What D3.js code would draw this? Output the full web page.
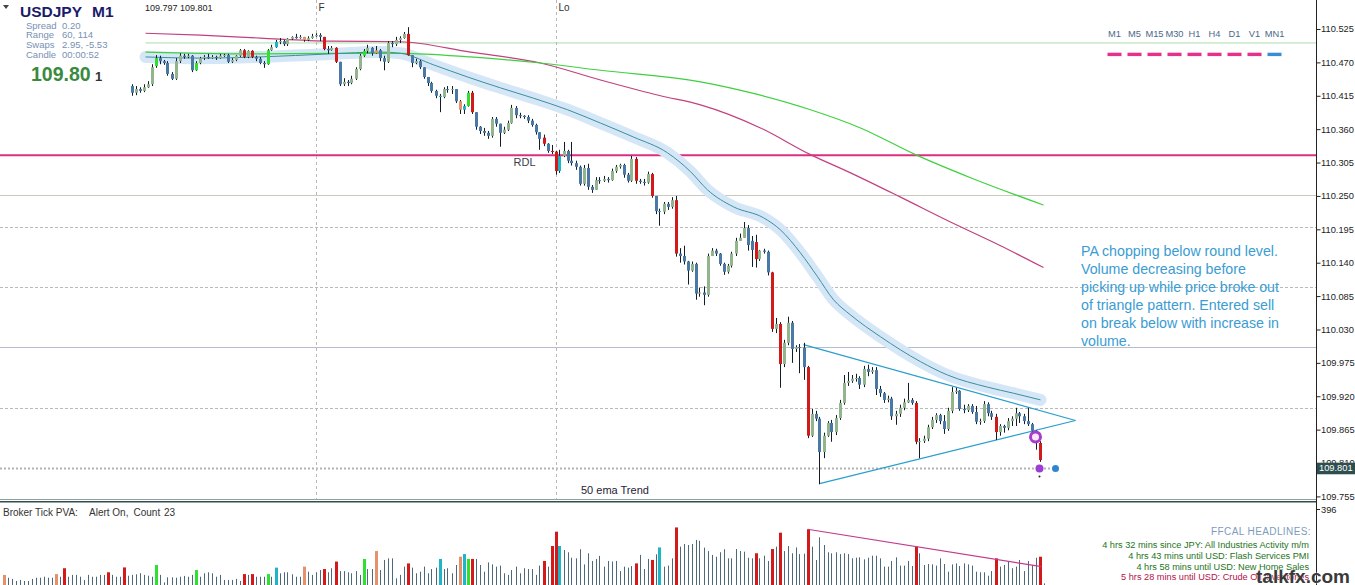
<!DOCTYPE html>
<html><head><meta charset="utf-8">
<script src="https://cdn.jsdelivr.net/npm/d3@7"></script>
<style>
html,body{margin:0;padding:0;background:#fff;overflow:hidden}
svg{display:block}
text{font-family:"Liberation Sans",Arial,sans-serif}
</style></head><body>
<svg id="c" width="1355" height="585"></svg>
<script>
// ---------------- DATA ----------------
const symbol = "USDJPY", timeframe = "M1";
const infoLabels = ["Spread","Range","Swaps","Candle"];
const infoValues = ["0.20","60, 114","2.95, -5.53","00:00:52"];
const bigPrice = "109.80", bigPriceLast = "1";
const bidAsk = "109.797 109.801";
const currentPrice = 109.801;

const candleStart = 32; // bar index (in the volume series) of the first visible candle
const opens=[110.431,110.420,110.426,110.423,110.429,110.434,110.464,110.477,110.472,110.469,
110.451,110.443,110.472,110.481,110.479,110.481,110.457,110.469,110.477,110.479,
110.477,110.479,110.477,110.481,110.482,110.471,110.474,110.481,110.490,110.479,
110.489,110.479,110.476,110.469,110.467,110.490,110.495,110.504,110.505,110.500,
110.509,110.512,110.510,110.512,110.507,110.510,110.513,110.515,110.512,110.492,
110.490,110.494,110.471,110.434,110.438,110.436,110.443,110.459,110.481,110.489,
110.494,110.485,110.490,110.477,110.471,110.502,110.500,110.507,110.510,110.517,
110.482,110.469,110.472,110.462,110.446,110.436,110.423,110.415,110.413,110.426,
110.425,110.426,110.406,110.392,110.398,110.420,110.388,110.364,110.357,110.354,
110.349,110.377,110.369,110.354,110.359,110.370,110.395,110.383,110.382,110.380,
110.374,110.367,110.355,110.346,110.336,110.324,110.323,110.291,110.316,110.324,
110.308,110.304,110.298,110.270,110.296,110.265,110.260,110.276,110.275,110.278,
110.276,110.291,110.298,110.301,110.285,110.275,110.311,110.275,110.273,110.272,
110.286,110.250,110.225,110.224,110.237,110.232,110.243,110.155,110.151,110.142,
110.127,110.138,110.089,110.091,110.087,110.151,110.160,110.155,110.138,110.125,
110.135,110.155,110.176,110.181,110.197,110.176,110.174,110.146,110.160,110.158,
110.124,110.031,110.039,109.973,110.008,110.041,109.998,110.001,110.000,109.968,
109.855,109.891,109.883,109.828,109.855,109.876,109.861,109.884,109.909,109.942,
109.945,109.949,109.950,109.939,109.965,109.960,109.963,109.932,109.925,109.914,
109.916,109.887,109.891,109.901,109.910,109.914,109.909,109.845,109.846,109.850,
109.869,109.881,109.889,109.879,109.866,109.896,109.927,109.929,109.899,109.897,
109.904,109.894,109.878,109.879,109.907,109.892,109.886,109.861,109.871,109.868,
109.879,109.883,109.892,109.887,109.879,109.874,109.863,109.843];
const closes=[110.420,110.426,110.423,110.429,110.434,110.462,110.477,110.472,110.469,110.451,
110.443,110.472,110.481,110.479,110.481,110.457,110.469,110.477,110.479,110.477,
110.479,110.477,110.481,110.482,110.471,110.474,110.481,110.490,110.479,110.489,
110.479,110.476,110.469,110.467,110.490,110.495,110.504,110.505,110.500,110.509,
110.512,110.510,110.512,110.507,110.510,110.513,110.515,110.512,110.492,110.490,
110.494,110.471,110.434,110.438,110.436,110.443,110.459,110.481,110.489,110.494,
110.485,110.490,110.477,110.471,110.502,110.500,110.507,110.510,110.517,110.482,
110.469,110.472,110.462,110.446,110.436,110.423,110.415,110.413,110.426,110.425,
110.426,110.406,110.392,110.398,110.420,110.388,110.364,110.357,110.354,110.349,
110.377,110.369,110.354,110.359,110.370,110.395,110.383,110.382,110.380,110.374,
110.367,110.355,110.344,110.336,110.324,110.323,110.291,110.316,110.324,110.308,
110.304,110.298,110.270,110.296,110.265,110.260,110.276,110.275,110.278,110.276,
110.291,110.298,110.301,110.285,110.275,110.311,110.275,110.273,110.272,110.286,
110.250,110.225,110.224,110.237,110.232,110.243,110.155,110.151,110.142,110.127,
110.138,110.089,110.091,110.087,110.151,110.160,110.155,110.138,110.125,110.135,
110.155,110.176,110.181,110.197,110.169,110.161,110.146,110.160,110.158,110.124,
110.031,110.039,109.973,110.008,110.041,109.998,110.001,110.000,109.968,109.855,
109.891,109.883,109.828,109.855,109.876,109.861,109.884,109.909,109.942,109.945,
109.949,109.950,109.939,109.965,109.960,109.963,109.932,109.925,109.914,109.916,
109.887,109.891,109.901,109.910,109.914,109.909,109.845,109.846,109.850,109.869,
109.881,109.889,109.879,109.866,109.896,109.927,109.929,109.899,109.897,109.904,
109.894,109.878,109.879,109.907,109.892,109.886,109.861,109.871,109.868,109.879,
109.883,109.892,109.887,109.879,109.874,109.863,109.848,109.815];
const highs=[110.434,110.431,110.429,110.434,110.439,110.467,110.482,110.481,110.474,110.472,
110.454,110.477,110.485,110.484,110.484,110.482,110.472,110.479,110.482,110.484,
110.482,110.481,110.484,110.484,110.484,110.477,110.482,110.492,110.492,110.490,
110.490,110.481,110.479,110.472,110.492,110.499,110.507,110.510,110.507,110.510,
110.513,110.517,110.515,110.512,110.513,110.517,110.518,110.518,110.512,110.497,
110.497,110.495,110.471,110.444,110.441,110.448,110.462,110.484,110.492,110.499,
110.495,110.497,110.492,110.481,110.505,110.505,110.512,110.513,110.520,110.528,
110.482,110.476,110.474,110.462,110.446,110.438,110.425,110.418,110.429,110.431,
110.431,110.426,110.408,110.401,110.423,110.423,110.388,110.365,110.362,110.357,
110.380,110.380,110.369,110.364,110.374,110.400,110.398,110.387,110.383,110.383,
110.377,110.369,110.355,110.351,110.337,110.334,110.324,110.326,110.339,110.326,
110.339,110.308,110.300,110.301,110.303,110.268,110.281,110.281,110.283,110.281,
110.295,110.301,110.303,110.303,110.288,110.316,110.314,110.278,110.278,110.290,
110.288,110.250,110.229,110.240,110.240,110.248,110.250,110.164,110.168,110.143,
110.142,110.140,110.099,110.101,110.155,110.164,110.163,110.156,110.140,110.138,
110.158,110.181,110.188,110.207,110.202,110.184,110.186,110.161,110.163,110.160,
110.125,110.049,110.042,110.013,110.051,110.044,110.004,110.006,110.008,109.970,
109.899,109.896,109.886,109.860,109.879,109.881,109.889,109.914,109.955,109.960,
109.955,109.957,109.953,109.970,109.972,109.968,109.968,109.937,109.927,109.921,
109.919,109.896,109.906,109.916,109.942,109.917,109.912,109.851,109.855,109.873,
109.886,109.892,109.891,109.889,109.901,109.935,109.934,109.930,109.906,109.907,
109.907,109.904,109.883,109.912,109.910,109.896,109.891,109.874,109.873,109.884,
109.887,109.901,109.894,109.891,109.901,109.876,109.864,109.846];
const lows=[110.415,110.416,110.420,110.421,110.428,110.431,110.461,110.467,110.466,110.448,
110.441,110.441,110.469,110.476,110.477,110.454,110.456,110.467,110.474,110.476,
110.476,110.474,110.476,110.479,110.469,110.469,110.472,110.479,110.477,110.477,
110.477,110.472,110.467,110.461,110.466,110.489,110.494,110.500,110.497,110.497,
110.507,110.509,110.509,110.504,110.505,110.509,110.512,110.505,110.490,110.484,
110.489,110.469,110.431,110.431,110.431,110.434,110.441,110.457,110.479,110.485,
110.481,110.484,110.472,110.457,110.469,110.495,110.497,110.502,110.509,110.481,
110.462,110.467,110.459,110.443,110.431,110.420,110.411,110.388,110.411,110.420,
110.418,110.403,110.385,110.385,110.397,110.385,110.359,110.352,110.349,110.344,
110.346,110.364,110.331,110.352,110.357,110.369,110.378,110.378,110.377,110.370,
110.364,110.351,110.326,110.332,110.321,110.319,110.285,110.288,110.314,110.304,
110.300,110.293,110.267,110.267,110.260,110.255,110.260,110.270,110.273,110.272,
110.275,110.288,110.295,110.280,110.272,110.273,110.270,110.270,110.267,110.270,
110.247,110.220,110.201,110.220,110.227,110.229,110.150,110.140,110.137,110.104,
110.125,110.079,110.084,110.070,110.084,110.151,110.151,110.135,110.120,110.122,
110.132,110.151,110.176,110.181,110.160,110.133,110.132,110.143,110.155,110.119,
110.026,110.024,109.934,109.968,110.004,109.975,109.993,109.958,109.947,109.851,
109.853,109.879,109.775,109.818,109.853,109.845,109.856,109.881,109.906,109.937,
109.942,109.944,109.932,109.935,109.953,109.957,109.922,109.919,109.909,109.910,
109.881,109.873,109.886,109.897,109.909,109.906,109.841,109.818,109.843,109.846,
109.866,109.876,109.874,109.858,109.863,109.892,109.924,109.896,109.892,109.894,
109.891,109.874,109.873,109.876,109.887,109.881,109.848,109.855,109.860,109.864,
109.871,109.871,109.876,109.874,109.871,109.860,109.832,109.812];

const volumes=[50,36,30,20,25,20,20,30,36,36,
41,36,36,54,41,83,41,50,50,41,
25,50,41,41,50,50,63,50,41,41,
87,46,50,53,58,50,46,41,99,50,
13,38,38,36,41,45,41,50,74,41,
58,63,58,41,50,25,25,25,30,20,
54,50,54,41,41,41,54,41,86,58,
63,63,53,41,41,91,66,50,63,74,
79,63,83,116,69,69,63,58,69,50,
129,79,79,168,74,124,132,132,33,50,
91,107,86,58,66,91,58,79,86,129,
79,83,
58,99,140,153,129,129,129,99,66,112,
102,91,96,58,50,74,91,58,83,79,
79,50,96,119,91,193,264,193,173,162,
135,132,177,102,157,119,129,144,91,119,
116,119,69,91,86,94,107,149,79,129,
124,152,186,91,96,132,285,190,203,198,
203,223,219,185,168,149,140,162,177,132,
132,178,168,165,135,132,157,132,145,119,
178,190,259,168,193,157,186,153,155,276,
190,124,236,198,162,157,162,153,157,153,
132,135,137,127,135,145,145,132,91,91,
119,137,96,96,119,94,190,157,99,104,
102,96,132,104,66,102,107,94,107,102,
96,66,63,63,46,69,132,91,99,116,
83,91,124,69,119,99,135,140,8];
const volMax = 396;
const volRed=[15,26,30,60,62,80,83,101,117,135,137,138,158,162,168,188,192,194,201,228,248,259];
const volGreen=[38,48,66,90,116];
const volCyan=[68,109,115,139,164];
const volSalmon=[0,13,75,93,114];
const volTrendIdx=[201,259.5], volTrendVal=[276,91];

const priceTicks=[110.525,110.470,110.415,110.360,110.305,110.250,110.195,110.140,110.085,110.030,109.975,109.920,109.865,109.810,109.755];

// moving averages (candle index, price)
const maSlowIdx=[3.5,17.25,32.25,49.75,67.25,84.75,102.25,117.25,132.25,142.25,157.25,169.75,179.75,192.25,204.75,217.25,228];
const maSlowVal=[110.518,110.515,110.510,110.505,110.504,110.487,110.469,110.441,110.415,110.400,110.362,110.318,110.288,110.248,110.207,110.168,110.132];
const maMidIdx=[3.5,17.25,32.25,49.75,67.25,84.75,102.25,117.25,142.25,157.25,169.75,182.25,196,209.75,228];
const maMidVal=[110.487,110.485,110.484,110.485,110.485,110.479,110.469,110.457,110.438,110.416,110.392,110.362,110.318,110.280,110.235];
const emaIdx=[3.5,17.25,32.25,49.75,62.25,67.25,75.5,84,92.25,100.5,109,117.25,125.5,134,139.75,144,150.5,158,162.25,167.25,171.5,175.5,179.75,187.25,197.25,204,214,220.5,227.25];
const emaVal=[110.479,110.477,110.479,110.484,110.487,110.485,110.466,110.446,110.428,110.411,110.392,110.370,110.347,110.321,110.290,110.260,110.232,110.214,110.194,110.156,110.117,110.079,110.054,110.018,109.977,109.955,109.935,109.925,109.914];

// horizontal levels
const topLevel = 110.502;
const rdlLevel = 110.317;
const solidLevels = [110.251];
const roundLevel = 110.001;
const dashedLevels = [110.199, 110.100, 109.900];
// period separators (candle index) and labels
const sepIdx = [46, 106], sepLabels = ["F","Lo"];
// triangle (candle index, price)
const triIdx=[168,236,172], triVal=[110.005,109.880,109.776];
// signals
const ringIdx=226, ringVal=109.853;
const dotIdx=[227,231], dotVal=[109.801,109.801];

const tfLabels=["M1","M5","M15","M30","H1","H4","D1","V1","MN1"];
const tfTrend=[-1,-1,-1,-1,-1,-1,-1,-1,1];

const noteLines=["PA chopping below round level.","Volume decreasing before","picking up while price broke out","of triangle pattern. Entered sell","on break below with increase in","volume."];
const headlines=["4 hrs 32 mins since JPY: All Industries Activity m/m","4 hrs 43 mins until USD: Flash Services PMI","4 hrs 58 mins until USD: New Home Sales","5 hrs 28 mins until USD: Crude Oil Inventories"];
const headlineImpact=[0,0,0,1];

// ---------------- DRAW ----------------
const svg=d3.select("#c");
const W=1355, axisX=1316;
const x=d3.scaleLinear().domain([0,volumes.length-1]).range([3.5,1043.5]);
const cx=i=>x(i+candleStart);
const y=d3.scaleLinear().domain([109.755,110.525]).range([496.4,29]);
const yv=d3.scaleLinear().domain([0,volMax]).range([585,505]);

const pal={red:"#d21a1a",green:"#30e030",cyan:"#1fb4c6",salmon:"#e4916c",up:"#93b58d",down:"#4a79a6",vol:"#4d6878"};
const codeOf=j=>volRed.includes(j)?"red":volGreen.includes(j)?"green":volCyan.includes(j)?"cyan":volSalmon.includes(j)?"salmon":null;

svg.append("rect").attr("width",W).attr("height",585).attr("fill","#fff");

const g=svg.append("g");
// levels
g.append("line").attr("x1",cx(3.5)).attr("x2",axisX).attr("y1",y(topLevel)).attr("y2",y(topLevel)).attr("stroke","#a9dca9").attr("stroke-width",1);
g.selectAll(".dl").data(dashedLevels).enter().append("line").attr("x1",0).attr("x2",axisX)
 .attr("y1",d=>Math.round(y(d))+0.5).attr("y2",d=>Math.round(y(d))+0.5).attr("stroke","#b9b9b9").attr("stroke-dasharray","3,2");
g.selectAll(".sl").data(solidLevels).enter().append("line").attr("x1",0).attr("x2",axisX)
 .attr("y1",d=>Math.round(y(d))+0.5).attr("y2",d=>Math.round(y(d))+0.5).attr("stroke","#cacabc");
g.append("line").attr("x1",0).attr("x2",axisX).attr("y1",Math.round(y(roundLevel))+0.5).attr("y2",Math.round(y(roundLevel))+0.5).attr("stroke","#b6bccb");
g.append("line").attr("x1",0).attr("x2",1058).attr("y1",y(currentPrice)).attr("y2",y(currentPrice)).attr("stroke","#b4b4b4").attr("stroke-width",2).attr("stroke-dasharray","2,2");
g.append("line").attr("x1",0).attr("x2",axisX).attr("y1",y(rdlLevel)).attr("y2",y(rdlLevel)).attr("stroke","#dc2e80").attr("stroke-width",2);

// period separators
sepIdx.forEach((s,k)=>{
  const xx=Math.round(cx(s))+0.5;
  g.append("line").attr("x1",xx).attr("x2",xx).attr("y1",0).attr("y2",499).attr("stroke","#b8b8b8").attr("stroke-dasharray","3,3");
  g.append("text").attr("x",xx+2).attr("y",7).attr("dominant-baseline","central").attr("font-size",10).attr("fill","#333").text(sepLabels[k]);
});

// MA lines
const ln=(I,V)=>d3.line().x((d,k)=>cx(I[k])).y((d,k)=>y(V[k])).curve(d3.curveMonotoneX)(I);
g.append("path").attr("d",ln(emaIdx,emaVal)).attr("fill","none").attr("stroke","#d5e7f7").attr("stroke-width",12).attr("stroke-linecap","round").attr("stroke-linejoin","round");
g.append("path").attr("d",ln(maSlowIdx,maSlowVal)).attr("fill","none").attr("stroke","#c2407e").attr("stroke-width",1.2);
g.append("path").attr("d",ln(maMidIdx,maMidVal)).attr("fill","none").attr("stroke","#3fd03f").attr("stroke-width",1.2);
g.append("path").attr("d",ln(emaIdx,emaVal)).attr("fill","none").attr("stroke","#3a8f9e").attr("stroke-width",1);

// triangle
g.append("line").attr("x1",cx(triIdx[0])).attr("y1",y(triVal[0])).attr("x2",cx(triIdx[1])).attr("y2",y(triVal[1])).attr("stroke","#2a9fcc").attr("stroke-width",1.2);
g.append("line").attr("x1",cx(triIdx[2])).attr("y1",y(triVal[2])).attr("x2",cx(triIdx[1])).attr("y2",y(triVal[1])).attr("stroke","#2a9fcc").attr("stroke-width",1.2);

// candles
const candles=closes.map((c,i)=>({i,o:opens[i],h:highs[i],l:lows[i],c,code:codeOf(i+candleStart)}));
const cg=g.append("g");
cg.selectAll(".w").data(candles).enter().append("line")
 .attr("x1",d=>Math.round(cx(d.i))+0.5).attr("x2",d=>Math.round(cx(d.i))+0.5)
 .attr("y1",d=>y(d.h)).attr("y2",d=>y(d.l)).attr("stroke","#141c2c").attr("stroke-width",1);
cg.selectAll(".b").data(candles).enter().append("rect")
 .attr("x",d=>Math.round(cx(d.i))-1).attr("width",3)
 .attr("y",d=>y(Math.max(d.o,d.c))).attr("height",d=>Math.max(1,Math.abs(y(d.o)-y(d.c))))
 .attr("fill",d=>d.code?pal[d.code]:(d.c>=d.o?pal.up:pal.down));

// signals
g.append("circle").attr("cx",cx(ringIdx)).attr("cy",y(ringVal)).attr("r",5).attr("fill","#fde6f6").attr("stroke","#a43ec8").attr("stroke-width",3);
g.append("circle").attr("cx",cx(dotIdx[0])).attr("cy",y(dotVal[0])).attr("r",4).attr("fill","#9a3fd2");
g.append("circle").attr("cx",cx(dotIdx[1])).attr("cy",y(dotVal[1])).attr("r",3.5).attr("fill","#2f86d0");
g.append("circle").attr("cx",cx(dotIdx[0])).attr("cy",y(dotVal[0])+8).attr("r",1).attr("fill","#222");

// texts on chart
g.append("text").attr("x",cx(95.5)).attr("y",y(rdlLevel)+7).attr("dominant-baseline","central").attr("font-size",11).attr("fill","#3c3c4c").text("RDL");
g.append("text").attr("x",581).attr("y",490).attr("dominant-baseline","central").attr("font-size",11).attr("fill","#1e2436").text("50 ema Trend");
g.append("g").selectAll("text").data(noteLines).enter().append("text")
 .attr("x",1081).attr("y",(d,k)=>251+17.9*k).attr("dominant-baseline","central")
 .attr("font-family","Lato, 'Open Sans', sans-serif").attr("font-size",14.2).attr("fill","#3a9cd2").text(d=>d);

// info panel
g.append("path").attr("d","M3,5L9,5L6,9Z").attr("fill","#444");
g.append("text").attr("x",20).attr("y",11).attr("dominant-baseline","central").attr("font-size",15.5).attr("font-weight","bold").attr("fill","#1b1b6b").text(symbol);
g.append("text").attr("x",92).attr("y",11).attr("dominant-baseline","central").attr("font-size",15.5).attr("font-weight","bold").attr("fill","#1b1b6b").text(timeframe);
infoLabels.forEach((t,k)=>{
  g.append("text").attr("x",26).attr("y",25+9.8*k).attr("dominant-baseline","central").attr("font-size",9.5).attr("fill","#7891b3").text(t);
  g.append("text").attr("x",62).attr("y",25+9.8*k).attr("dominant-baseline","central").attr("font-size",9.5).attr("fill","#7891b3").text(infoValues[k]);
});
g.append("text").attr("x",31).attr("y",74).attr("dominant-baseline","central").attr("font-size",19.5).attr("font-weight","bold").attr("fill","#3a8a3e").text(bigPrice);
g.append("text").attr("x",95).attr("y",76).attr("dominant-baseline","central").attr("font-size",13).attr("font-weight","bold").attr("fill","#333").text(bigPriceLast);
g.append("text").attr("x",145).attr("y",7.5).attr("dominant-baseline","central").attr("font-size",9).attr("fill","#222").text(bidAsk);

// timeframe panel
tfLabels.forEach((t,k)=>{
  const c=1114.5+20*k;
  g.append("text").attr("x",c).attr("y",33.5).attr("text-anchor","middle").attr("dominant-baseline","central").attr("font-size",9.3).attr("fill","#4b6888").text(t);
  g.append("rect").attr("x",c-7).attr("y",52.7).attr("width",14).attr("height",3.4).attr("fill",tfTrend[k]<0?"#e5318b":"#3a8cd4");
});

// separators between panels
svg.append("line").attr("x1",0).attr("x2",axisX).attr("y1",499.5).attr("y2",499.5).attr("stroke","#8fa0a0");
svg.append("line").attr("x1",0).attr("x2",axisX).attr("y1",501.8).attr("y2",501.8).attr("stroke","#2f4f4f").attr("stroke-width",1.6);

// volume panel
const vb=svg.append("g");
vb.selectAll("rect").data(volumes).enter().append("rect")
 .attr("x",(d,j)=>codeOf(j)?Math.round(x(j))-1:Math.round(x(j)))
 .attr("width",(d,j)=>codeOf(j)?3:1)
 .attr("y",d=>yv(d)).attr("height",d=>585-yv(d))
 .attr("fill",(d,j)=>codeOf(j)?pal[codeOf(j)]:pal.vol);
svg.append("line").attr("x1",x(volTrendIdx[0])).attr("y1",yv(volTrendVal[0])).attr("x2",x(volTrendIdx[1])).attr("y2",yv(volTrendVal[1])).attr("stroke","#c23a8e").attr("stroke-width",1.2);
const pva=svg.append("g").attr("font-size",10).attr("fill","#333");
pva.append("text").attr("x",3).attr("y",512).attr("dominant-baseline","central").text("Broker Tick PVA:");
pva.append("text").attr("x",89).attr("y",512).attr("dominant-baseline","central").text("Alert On,");
pva.append("text").attr("x",133.5).attr("y",512).attr("dominant-baseline","central").text("Count");
pva.append("text").attr("x",164).attr("y",512).attr("dominant-baseline","central").text("23");

// headlines
svg.append("text").attr("x",1311).attr("y",531.7).attr("text-anchor","end").attr("dominant-baseline","central").attr("font-size",10).attr("letter-spacing",0.4).attr("fill","#7d9cbc").text("FFCAL HEADLINES:");
headlines.forEach((t,k)=>{
  svg.append("text").attr("x",1309).attr("y",545+10.8*k).attr("text-anchor","end").attr("dominant-baseline","central").attr("font-size",9.2).attr("fill",headlineImpact[k]?"#b3124a":"#1d7420").text(t);
});

// axis
svg.append("line").attr("x1",axisX+0.5).attr("x2",axisX+0.5).attr("y1",0).attr("y2",585).attr("stroke","#222");
const ax=svg.append("g").attr("transform",`translate(${axisX+0.5},0)`)
 .call(d3.axisRight(y).tickValues(priceTicks).tickSize(4).tickPadding(0.5).tickFormat(d3.format(".3f")));
ax.select(".domain").remove();
ax.selectAll("text").attr("font-size",9.3).attr("fill","#222").attr("font-family","'Liberation Sans',Arial,sans-serif");
ax.selectAll("line").attr("stroke","#222");
svg.append("text").attr("x",1321).attr("y",509.5).attr("dominant-baseline","central").attr("font-size",9.3).attr("fill","#222").text(volMax);
svg.append("line").attr("x1",axisX).attr("x2",axisX+4).attr("y1",509.5).attr("y2",509.5).attr("stroke","#222");
// current price tag
svg.append("rect").attr("x",axisX+1).attr("y",y(currentPrice)-5.8).attr("width",W-axisX-1).attr("height",11.6).attr("fill","#2f4f4f");
svg.append("text").attr("x",axisX+3).attr("y",y(currentPrice)).attr("dominant-baseline","central").attr("font-size",9.3).attr("fill","#fff").text(d3.format(".3f")(currentPrice));

// watermark
svg.append("text").attr("x",1350).attr("y",576).attr("text-anchor","end").attr("dominant-baseline","central")
 .attr("font-size",19).attr("font-weight","bold").attr("fill","#3a3a3a").attr("stroke","#fff").attr("stroke-width",0.6).attr("paint-order","stroke").attr("font-family","'Liberation Sans',Arial,sans-serif").text("talkfx.com");
</script>
</body></html>
